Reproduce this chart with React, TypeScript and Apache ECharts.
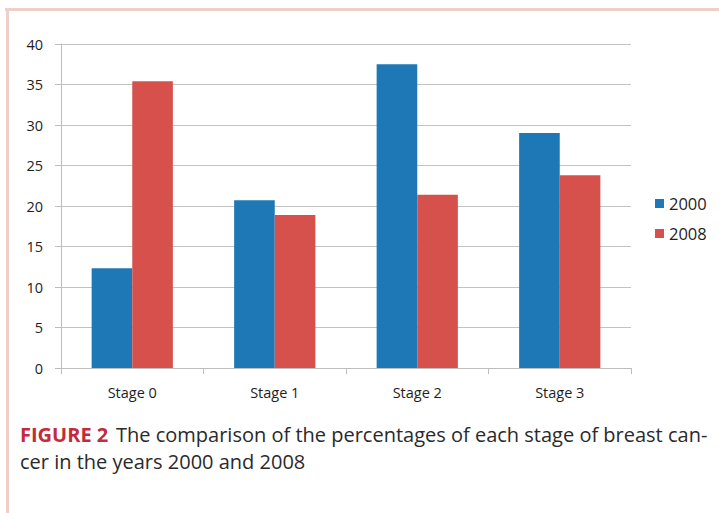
import React, { useEffect, useRef } from "react";
import * as echarts from "echarts";

const categories = ["Stage 0", "Stage 1", "Stage 2", "Stage 3"];
const series2000 = [12.3, 20.7, 37.5, 29.0];
const series2008 = [35.4, 18.9, 21.4, 23.8];
const seriesNames = ["2000", "2008"];
const yTicks = { min: 0, max: 40, interval: 5 };
const captionLabel = "FIGURE 2";
const captionLine1 = "The comparison of the percentages of each stage of breast can-";
const captionLine2 = "cer in the years 2000 and 2008";

export default function App() {
  const ref = useRef<HTMLDivElement>(null);
  useEffect(() => {
    if (!ref.current) return;
    const chart = echarts.init(ref.current, null, { renderer: "svg" });
    const axisFont = { fontFamily: "Open Sans, Lato, sans-serif", fontSize: 14.5, color: "#1e1e1e" };
    const capFont = '20px "Open Sans", sans-serif';
    chart.setOption({
      animation: false,
      backgroundColor: "#fff",
      grid: { left: 61, right: 88, top: 44, bottom: 145, containLabel: false },
      legend: {
        orient: "vertical",
        left: 650,
        top: 190,
        itemWidth: 9,
        itemHeight: 9,
        itemGap: 13,
        icon: "rect",
        textStyle: { ...axisFont, fontSize: 16.5 },
        data: seriesNames,
      },
      xAxis: {
        type: "category",
        data: categories,
        axisLine: { lineStyle: { color: "#bdbdbd" } },
        axisTick: { show: true, length: 6, lineStyle: { color: "#bdbdbd" } },
        axisLabel: { ...axisFont, margin: 17 },
      },
      yAxis: {
        type: "value",
        min: yTicks.min,
        max: yTicks.max,
        interval: yTicks.interval,
        axisLine: { show: true, lineStyle: { color: "#bdbdbd" } },
        axisTick: { show: true, length: 6, lineStyle: { color: "#bdbdbd" } },
        axisLabel: { ...axisFont, margin: 18 },
        splitLine: { lineStyle: { color: "#c2c2c2" } },
      },
      series: [
        {
          name: seriesNames[0],
          type: "bar",
          data: series2000,
          itemStyle: { color: "#1f78b6" },
          barGap: "0%",
          barCategoryGap: "43%",
        },
        {
          name: seriesNames[1],
          type: "bar",
          data: series2008,
          itemStyle: { color: "#d6504c" },
          barGap: "0%",
          barCategoryGap: "43%",
        },
      ],
      graphic: [
        { type: "rect", shape: { x: 5, y: 8, width: 714, height: 3 }, style: { fill: "#efcfc7" }, silent: true },
        { type: "rect", shape: { x: 6, y: 8, width: 3, height: 505 }, style: { fill: "#efcfc7" }, silent: true },
        {
          type: "text",
          x: 20,
          y: 434,
          style: {
            text: captionLabel,
            font: 'bold 20px "Open Sans", sans-serif',
            fill: "#c42a3c",
            verticalAlign: "middle",
          },
        },
        {
          type: "text",
          x: 116,
          y: 434,
          style: { text: captionLine1, font: capFont, fill: "#2a2a2a", verticalAlign: "middle" },
        },
        {
          type: "text",
          x: 20,
          y: 461.5,
          style: { text: captionLine2, font: capFont, fill: "#2a2a2a", verticalAlign: "middle" },
        },
      ],
    });
    return () => chart.dispose();
  }, []);
  return (
    <div
      ref={ref}
      style={{ position: "fixed", left: 0, top: 0, width: 719, height: 513 }}
    />
  );
}
